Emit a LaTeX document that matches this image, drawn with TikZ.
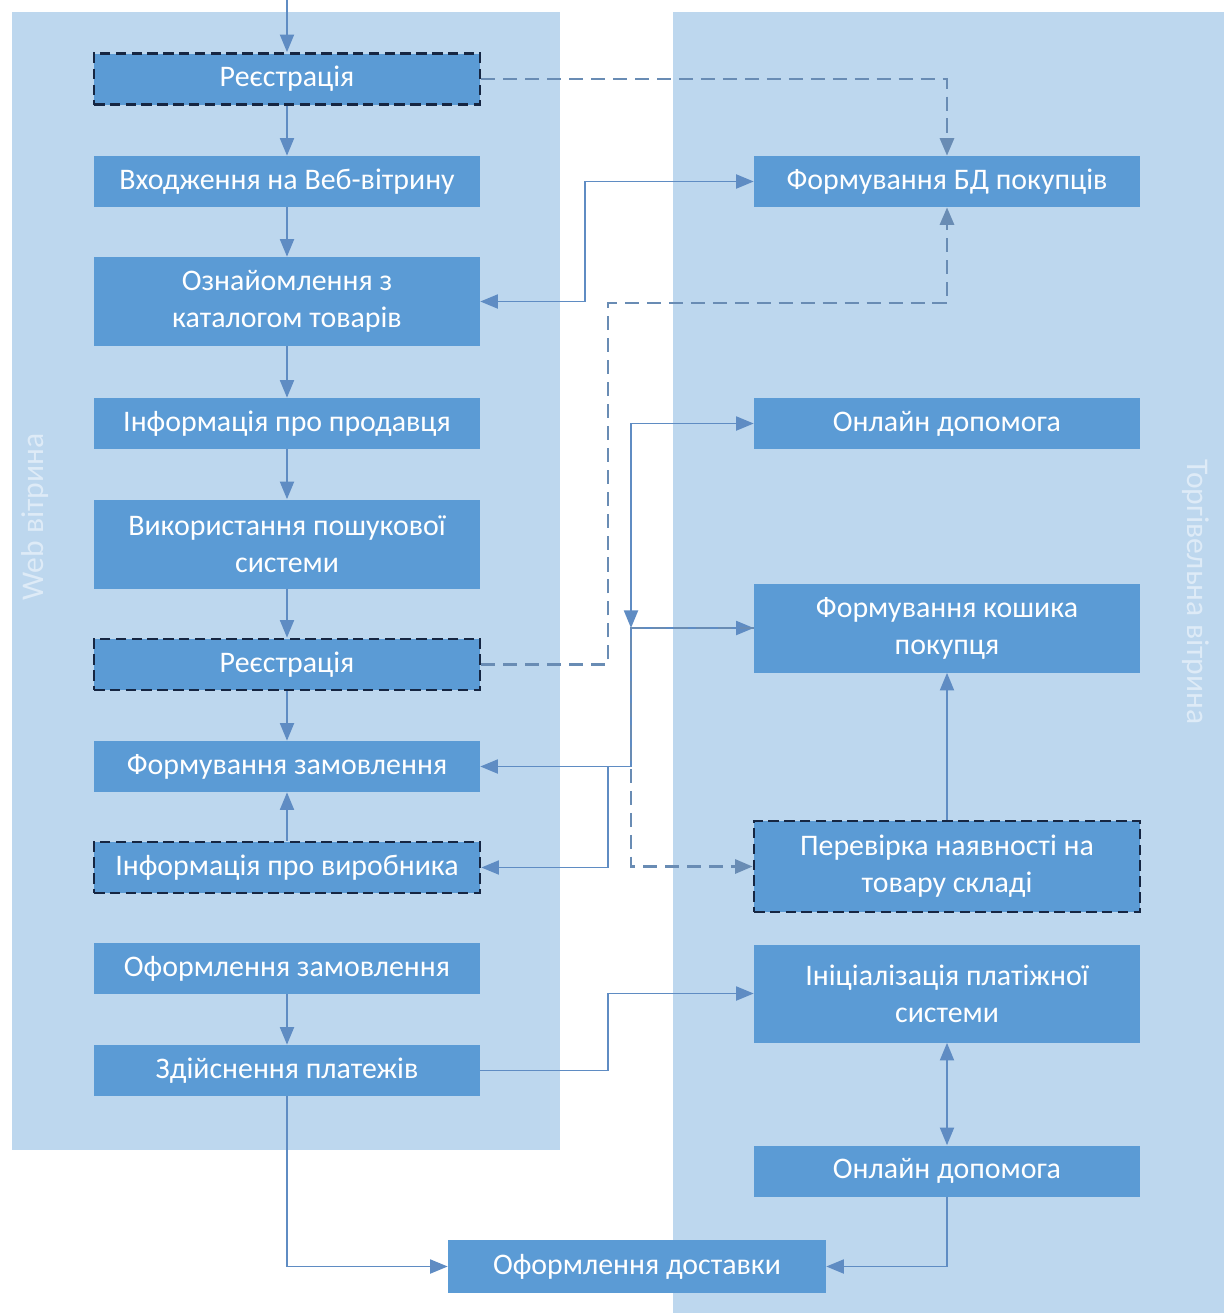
\documentclass[tikz,border=0pt]{standalone}
\usepackage{fontspec}
\setmainfont{Carlito}
\usetikzlibrary{arrows.meta,positioning}
\definecolor{lanefill}{RGB}{189,215,238}
\definecolor{boxfill}{RGB}{91,155,213}
\definecolor{linecol}{RGB}{95,140,195}
\definecolor{dashcol}{RGB}{105,140,180}
\definecolor{navy}{RGB}{22,38,66}
\definecolor{lanetext}{RGB}{222,235,247}

\begin{document}
\begin{tikzpicture}[x=0.02cm, y=-0.02cm,
    box/.style={fill=boxfill, text=white, minimum width=7.72cm, minimum height=1.02cm, inner sep=0pt, align=center, font=\fontsize{17}{21}\selectfont},
    tallbox/.style={box, minimum height=1.78cm},
    regbox/.style={box, draw=navy, line width=1.6pt, dash pattern=on 6pt off 3pt},
    lane/.style={fill=lanefill},
    lanelabel/.style={text=lanetext, font=\fontsize{18}{22}\selectfont},
    arr/.style={-{Triangle[length=10pt, width=8pt]}, color=linecol, line width=1pt},
    biarr/.style={arr, {Triangle[length=10pt, width=8pt]}-{Triangle[length=10pt, width=8pt]}},
    dasharr/.style={arr, color=dashcol, line width=1.6pt, dash pattern=on 8pt off 4.5pt}
]
\useasboundingbox (0,0) rectangle (1224,1313);

% swimlanes
\fill[lane] (12,12) rectangle (560,1150);
\fill[lane] (673,12) rectangle (1224,1313);
\node[lanelabel, rotate=90] (webl) at (35,517) {Web вітрина};
\node[lanelabel, rotate=-90] (torgl) at (1196,592) {Торгівельна вітрина};

% left column
\node[regbox] (reg1) at (287,79) {Реєстрація};
\node[box] (vkhod) at (287,181.5) {Входження на Веб-вітрину};
\node[tallbox] (ozn) at (287,301.5) {Ознайомлення з\\каталогом товарів};
\node[box] (prod) at (287,423.5) {Інформація про продавця};
\node[tallbox] (poshuk) at (287,544) {Використання пошукової\\системи};
\node[regbox] (reg2) at (287,664.5) {Реєстрація};
\node[box] (zam) at (287,766.5) {Формування замовлення};
\node[regbox] (vyr) at (287,867.5) {Інформація про виробника};
\node[box] (oform) at (287,968.5) {Оформлення замовлення};
\node[box] (plat) at (287,1070.5) {Здійснення платежів};

% right column
\node[box] (bd) at (947,181.5) {Формування БД покупців};
\node[box] (onl1) at (947,423.5) {Онлайн допомога};
\node[tallbox] (kosh) at (947,628) {Формування кошика\\покупця};
\node[regbox, minimum height=1.82cm] (perev) at (947,866.5) {Перевірка наявності на\\товару складі};
\node[tallbox, minimum height=1.96cm] (ini) at (947,993.5) {Ініціалізація платіжної\\системи};
\node[box] (onl2) at (947,1171) {Онлайн допомога};

\node[box, minimum width=7.56cm, minimum height=1.06cm] (dost) at (637,1266.5) {Оформлення доставки};

\coordinate (start) at (287,0);
\coordinate (dbend) at (608,303);
\coordinate (jA) at (631,628);
\coordinate (jB) at (608,766.5);

% flow in the web lane
\draw[arr] (start) -- (reg1);
\foreach \a/\b in {reg1/vkhod, vkhod/ozn, ozn/prod, prod/poshuk, poshuk/reg2, reg2/zam, vyr/zam, oform/plat}
    \draw[arr] (\a) -- (\b);

% links between lanes
\draw[dasharr] (reg1.east) -| (bd.north);
\draw[biarr] (ozn.east) -- ++(105,0) |- (bd.west);
\draw[dasharr] (reg2.east) -| (dbend) -| (bd.south);
\draw[biarr] (onl1.west) -| (jA);
\draw[arr] (jA) -- (kosh.west);
\draw[arr] (jA) |- (zam.east);
\draw[arr] (jB) |- (vyr.east);
\draw[dasharr] (kosh.west) -| (jA) |- (perev.west);
\draw[arr] (perev) -- (kosh);
\draw[arr] (plat.east) -- ++(128,0) |- (ini.west);
\draw[biarr] (ini) -- (onl2);
\draw[arr] (onl2.south) |- (dost.east);
\draw[arr] (plat.south) |- (dost.west);
\end{tikzpicture}
\end{document}
